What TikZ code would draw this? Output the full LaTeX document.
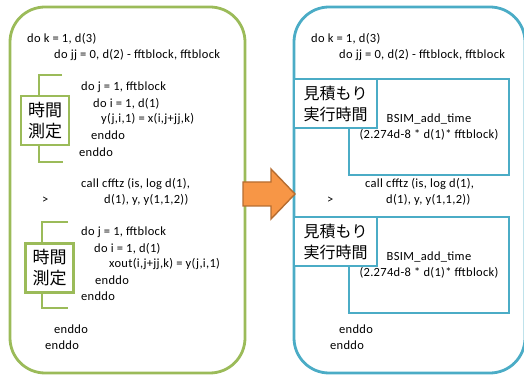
\documentclass[tikz,border=0pt]{standalone}
\usepackage{fontspec}
\setmainfont{Carlito}[LetterSpace=2.5]
\newfontfamily\jp{Noto Sans CJK JP}
\definecolor{boxgreen}{HTML}{9BBB59}
\definecolor{boxblue}{HTML}{4BACC6}
\definecolor{arrfill}{HTML}{F79646}
\definecolor{arrline}{HTML}{B66D31}
\begin{document}
\begin{tikzpicture}[x=1pt,y=-1pt,
  code/.style={anchor=west,inner sep=0pt,font=\fontsize{12.5}{14}\selectfont,text height=9pt,text depth=3pt},
  outergreen/.style={draw=boxgreen,line width=2.8pt,rounded corners=35pt},
  outerblue/.style={draw=boxblue,line width=2.8pt,rounded corners=35pt},
  bracket/.style={draw=boxgreen,line width=2.8pt},
  greenlabel/.style={draw=boxgreen,line width=2.8pt,fill=white,align=center,inner sep=0pt,
     font=\jp\fontsize{17}{21}\selectfont,minimum width=48pt,minimum height=49pt},
  bluelabel/.style={draw=boxblue,line width=2.6pt,fill=white,align=center,inner sep=0pt,
     font=\jp\fontsize{16}{21}\selectfont,minimum width=83pt,minimum height=49pt},
  innerrect/.style={draw=boxblue,line width=2.4pt,align=center,inner sep=0pt,
     minimum width=160pt,minimum height=96pt,font=\fontsize{12.5}{15.5}\selectfont},
  bigarrow/.style={fill=arrfill,draw=arrline,line width=1.4pt,line join=miter}
]
\useasboundingbox (0,0) rectangle (524,379);
\clip (0,0) rectangle (524,379);

% outer boxes
\draw[outergreen] (10,7) rectangle (245,373);
\draw[outerblue] (294,7) rectangle (525,373);

% ---- left side ----
\node[code] (l1) at (27,40) {do k = 1, d(3)};
\node[code] (l2) at (54,56) {do jj = 0, d(2) - fftblock, fftblock};
\node[code] (l3) at (81,88) {do j = 1, fftblock};
\node[code] (l4) at (93,105) {do i = 1, d(1)};
\node[code] (l5) at (101,120) {y(j,i,1) = x(i,j+jj,k)};
\node[code] (l6) at (91,137) {enddo};
\node[code] (l7) at (79,154) {enddo};
\node[code] (l8) at (81,185) {call cfftz (is, log d(1),};
\node[code] (l9a) at (42,201) {>};
\node[code] (l9) at (104,201) {d(1), y, y(1,1,2))};
\node[code] (l10) at (81,233) {do j = 1, fftblock};
\node[code] (l11) at (94,249) {do i = 1, d(1)};
\node[code] (l12) at (109,264) {xout(i,j+jj,k) = y(j,i,1)};
\node[code] (l13) at (95,281) {enddo};
\node[code] (l14) at (81,297) {enddo};
\node[code] (l15) at (54,330) {enddo};
\node[code] (l16) at (45,346) {enddo};

% brackets
\draw[bracket] (62,75) -- (39,75) -- (39,162) -- (63,162);
\draw[bracket] (68,222) -- (42,222) -- (42,308) -- (68,308);
\node[greenlabel] (g1) at (45,120.5) {時間\\測定};
\node[greenlabel] (g2) at (49.5,268) {時間\\測定};

% ---- right side ----
\node[code] (r1) at (311,40) {do k = 1, d(3)};
\node[code] (r2) at (339,56) {do jj = 0, d(2) - fftblock, fftblock};
\node[innerrect] (b1) at (429,127) {BSIM\_add\_time\\(2.274d-8 * d(1)* fftblock)};
\node[bluelabel] (e1) at (335.5,103.5) {見積もり\\実行時間};
\node[code] (r3) at (365,185) {call cfftz (is, log d(1),};
\node[code] (r4a) at (327,201) {>};
\node[code] (r4) at (386,201) {d(1), y, y(1,1,2))};
\node[innerrect] (b2) at (429,265) {BSIM\_add\_time\\(2.274d-8 * d(1)* fftblock)};
\node[bluelabel] (e2) at (335.5,241.5) {見積もり\\実行時間};
\node[code] (r5) at (339,330) {enddo};
\node[code] (r6) at (330,346) {enddo};

% arrow
\draw[bigarrow] (243,182) -- (271,182) -- (271,169) -- (295,194) -- (271,219) -- (271,206) -- (243,206) -- cycle;
\end{tikzpicture}
\end{document}
